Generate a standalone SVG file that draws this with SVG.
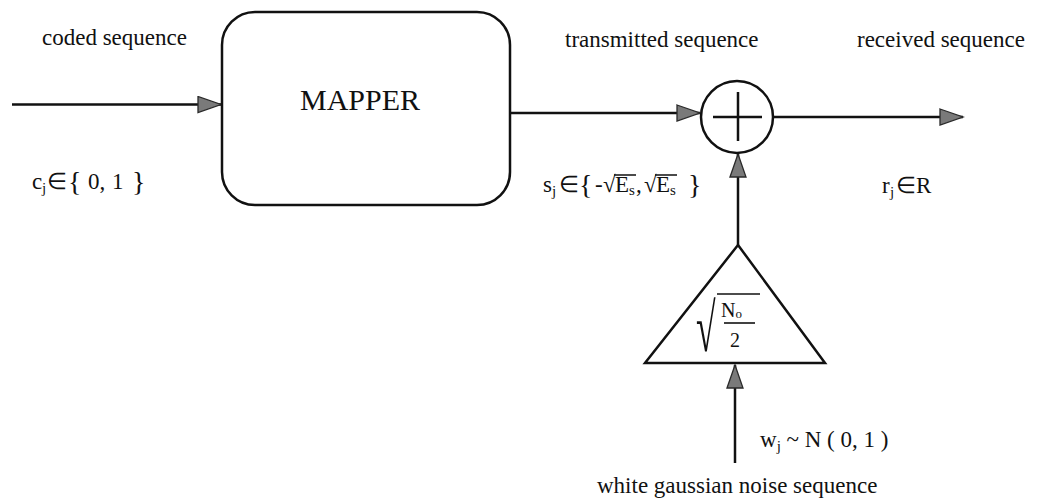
<svg xmlns="http://www.w3.org/2000/svg" width="1039" height="500" viewBox="0 0 1039 500">
<style>
text{font-family:"Liberation Serif","Times New Roman",serif;fill:#111}
.lbl{font-size:23px}
.sub{font-size:15px}
.br{font-size:28px}
.ln{fill:none;stroke:#111;stroke-width:2.5}
.thin{fill:none;stroke:#111;stroke-width:1.6}
</style>
<defs>
<marker id="ah" markerWidth="26" markerHeight="20" refX="24" refY="9" orient="auto" markerUnits="userSpaceOnUse">
<path d="M1,1 L24,9 L1,17 Z" fill="#7a7a7a" stroke="#2a2a2a" stroke-width="1.3"/>
</marker>
</defs>
<g id="connectors">
<path class="ln" d="M12,104.5 L221,104.5" marker-end="url(#ah)"/>
<path class="ln" d="M510,113 L700,113" marker-end="url(#ah)"/>
<path class="ln" d="M773,117 L963,117" marker-end="url(#ah)"/>
<path class="ln" d="M738,245 L738,154" marker-end="url(#ah)"/>
<path class="ln" d="M735,463 L735,365" marker-end="url(#ah)"/>
</g>
<g id="mapper">
<rect class="ln" x="222" y="12" width="288" height="193" rx="33" ry="33"/>
<text x="360" y="110" font-size="30" text-anchor="middle">MAPPER</text>
</g>
<g id="adder">
<circle class="ln" cx="737" cy="117" r="36"/>
<path class="ln" d="M713,117 H762 M738,92 V141"/>
</g>
<g id="gain">
<path class="ln" d="M738,245 L825,363 L645,363 Z"/>
<text x="0" y="0" font-size="34" transform="translate(696,351) scale(1.05,2.0)">√</text>
<path class="thin" d="M717,294 H760"/>
<text x="721" y="317" font-size="20">N<tspan font-size="13" dy="1">o</tspan></text>
<path class="thin" d="M724,323 H755"/>
<text x="735" y="347" font-size="20" text-anchor="middle">2</text>
</g>
<g id="labels">
<text class="lbl" x="42" y="45">coded sequence</text>
<text class="lbl" x="565" y="47">transmitted sequence</text>
<text class="lbl" x="857" y="47">received sequence</text>
<g id="cj">
<text class="lbl" x="32" y="189">c</text>
<text class="sub" x="42" y="193">j</text>
<text class="lbl" x="47" y="189">∈</text>
<text class="br" x="68" y="191">{</text>
<text class="lbl" x="88" y="189">0,</text>
<text class="lbl" x="112" y="189">1</text>
<text class="br" x="132" y="191">}</text>
</g>
<g id="sj">
<text class="lbl" x="543" y="192">s</text>
<text class="sub" x="552" y="196">j</text>
<text class="lbl" x="559" y="192">∈</text>
<text class="br" x="579" y="194">{</text>
<text class="lbl" x="595" y="192">-</text>
<text class="lbl" x="603" y="192">√</text>
<text class="lbl" x="615" y="192">E</text>
<text class="sub" x="629" y="195">s</text>
<text class="lbl" x="636" y="192">,</text>
<text class="lbl" x="644" y="192">√</text>
<text class="lbl" x="656" y="192">E</text>
<text class="sub" x="670" y="195">s</text>
<path class="thin" d="M614,175 H636 M655,175 H677"/>
<text class="br" x="688" y="194">}</text>
</g>
<g id="rj">
<text class="lbl" x="882" y="193">r</text>
<text class="sub" x="890" y="197">j</text>
<text class="lbl" x="896" y="193">∈</text>
<text class="lbl" x="916" y="193" font-size="25">R</text>
</g>
<text class="lbl" x="760" y="447">w<tspan class="sub" dy="4">j</tspan><tspan dy="-4"> ~ N ( 0, 1 )</tspan></text>
<text class="lbl" x="597" y="493">white gaussian noise sequence</text>
</g>
</svg>
